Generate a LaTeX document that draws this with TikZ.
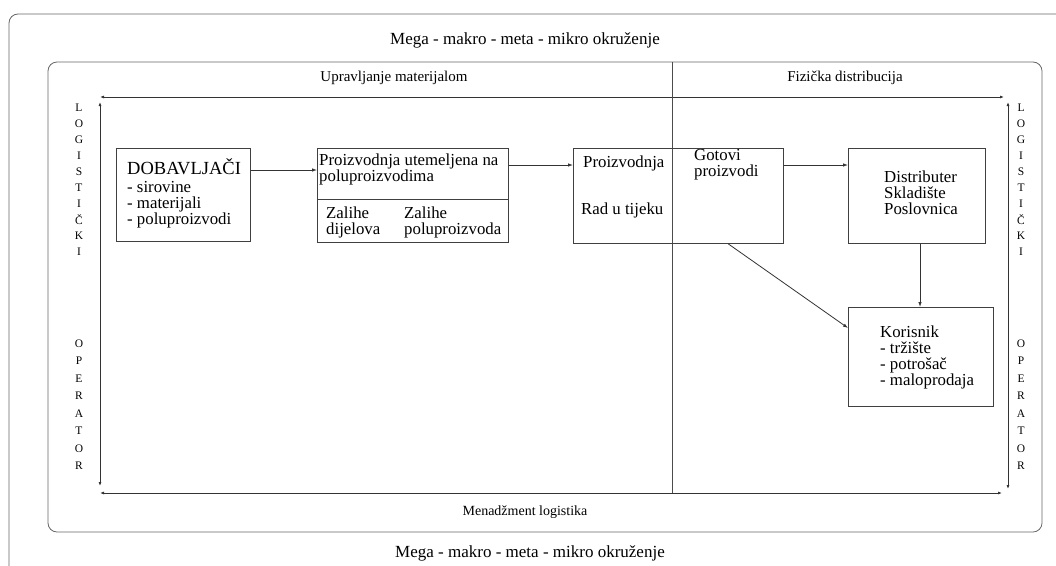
\documentclass[tikz,border=0pt]{standalone}
\usepackage{fontspec}
\setmainfont{Liberation Serif}
\usetikzlibrary{arrows.meta}

\tikzset{
  box/.style={draw=black!75, line width=0.7pt, inner sep=0pt, anchor=north west},
  txt/.style={inner sep=0pt, anchor=north west, align=left, font=\fontsize{16.8}{16}\selectfont},
  head/.style={inner sep=0pt, font=\fontsize{15}{15}\selectfont},
  letter/.style={inner sep=0pt, font=\fontsize{11.5}{11.5}\selectfont},
  flow/.style={draw=black!80, line width=0.8pt, -{Latex[length=5pt,width=3.5pt]}},
  span/.style={draw=black!80, line width=0.8pt, {Latex[length=4pt,width=3pt]}-{Latex[length=4pt,width=3pt]}},
  frame/.style={draw=black!60, line width=0.8pt, rounded corners=9pt}
}

\begin{document}
\begin{tikzpicture}[x=1pt,y=-1pt]
\useasboundingbox (0,0) rectangle (1056,565);

% frames
\draw[frame] (9,580) -- (9,14) -- (1070,14);
\draw[frame] (48,62) rectangle (1042,532);

% environment
\node[head, font=\fontsize{17}{17}\selectfont] (envtop) at (525,40) {Mega - makro - meta - mikro okruženje};
\node[head, font=\fontsize{17}{17}\selectfont] (envbot) at (530,553) {Mega - makro - meta - mikro okruženje};

% headings
\node[head] (mat) at (394,78) {Upravljanje materijalom};
\node[head] (dist) at (845,78) {Fizička distribucija};
\node[head, font=\fontsize{14}{14}\selectfont] (mgmt) at (525,512) {Menadžment logistika};

% spans
\coordinate (tl) at (100,97);
\coordinate (tr) at (1004,97);
\coordinate (bl) at (100,493);
\coordinate (br) at (1002,493);
\coordinate (lt) at (100,102);
\coordinate (lb) at (100,486);
\coordinate (rt) at (1008,102);
\coordinate (rb) at (1008,489);
\draw[span] (tl) -- (tr);
\draw[span] (bl) -- (br);
\draw[span] (lt) -- (lb);
\draw[span] (rt) -- (rb);

% divider
\coordinate (dtop) at (672,62);
\coordinate (dbot) at (672,493);
\draw[draw=black!70, line width=0.7pt] (dtop) -- (dbot);

% side letters
\foreach \c [count=\i] in {L,O,G,I,S,T,I,Č,K,I} {
  \node[letter] (ll\i) at (79,{92+16*\i}) {\c};
  \node[letter] (rl\i) at (1021,{92+16*\i}) {\c};
}
\foreach \c [count=\i] in {O,P,E,R,A,T,O,R} {
  \node[letter] (lo\i) at (79,{326+17.5*\i}) {\c};
  \node[letter] (ro\i) at (1021,{326+17.5*\i}) {\c};
}

% boxes
\node[box, minimum width=134pt, minimum height=93pt] (dob) at (116,148) {};
\node[box, minimum width=191pt, minimum height=51pt] (proiz) at (317,148) {};
\node[box, minimum width=191pt, minimum height=43pt] (zal) at (317,199) {};
\node[box, minimum width=210pt, minimum height=95pt] (mid) at (573,148) {};
\node[box, minimum width=137pt, minimum height=95pt] (distr) at (848,148) {};
\node[box, minimum width=145pt, minimum height=99pt] (kor) at (848,307) {};

% box texts
\node[txt, font=\fontsize{18.5}{18.5}\selectfont] (dobh) at (127,158) {DOBAVLJAČI};
\node[txt] (dobl) at (127,181) {- sirovine\\- materijali\\- poluproizvodi};
\node[txt] (proizt) at (319,154) {Proizvodnja utemeljena na\\poluproizvodima};
\node[txt] (zal1) at (326,207) {Zalihe\\dijelova};
\node[txt] (zal2) at (404,207) {Zalihe\\poluproizvoda};
\node[txt] (midp) at (583,156) {Proizvodnja};
\node[txt] (midr) at (581,203) {Rad u tijeku};
\node[txt] (midg) at (694,149) {Gotovi\\proizvodi};
\node[txt] (distt) at (884,171) {Distributer\\Skladište\\Poslovnica};
\node[txt] (kort) at (880,326) {Korisnik\\- tržište\\- potrošač\\- maloprodaja};

% flows
\draw[flow] (dob.east |- 0,170) -- (proiz.west |- 0,170);
\draw[flow] (proiz.east |- 0,165) -- (mid.west |- 0,165);
\draw[flow] (mid.east |- 0,165) -- (distr.west |- 0,165);
\draw[flow] (distr.south -| 920,0) -- (kor.north -| 920,0);
\draw[flow] (mid.south -| 728,0) -- (kor.west |- 0,328);

\end{tikzpicture}
\end{document}
